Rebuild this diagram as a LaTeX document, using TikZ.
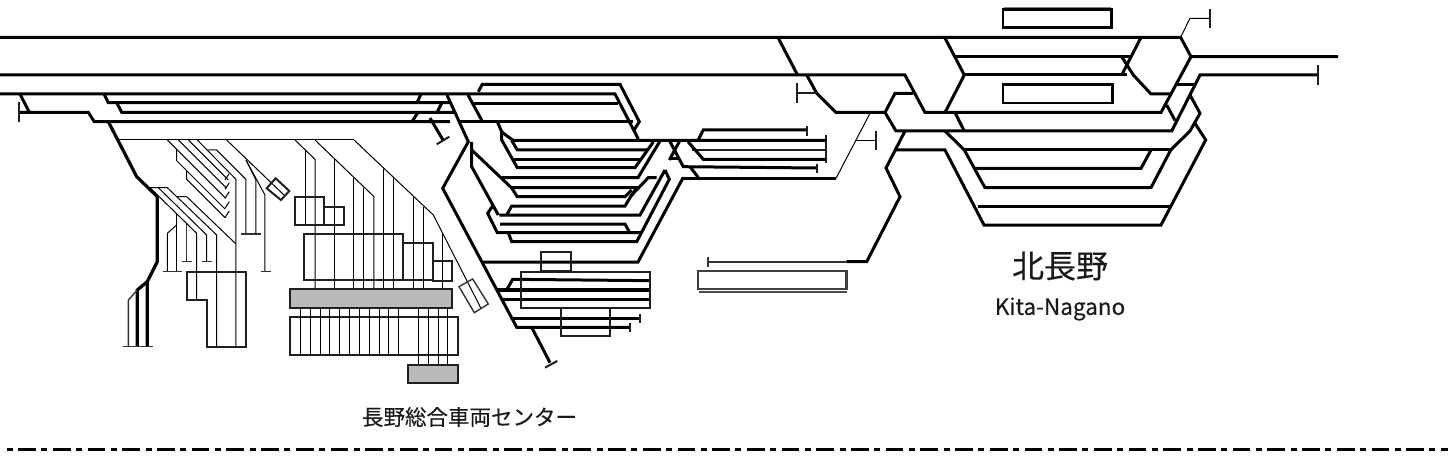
\documentclass[tikz,border=0pt]{standalone}
\usepackage{fontspec}
\setmainfont{Noto Sans CJK JP}[FakeBold=0.25]
\tikzset{
  trk/.style={line width=3pt,black},
  med/.style={line width=2pt,black!88},
  lite/.style={line width=1pt,black},
  thinz/.style={line width=1.4pt,black!80},
  greybld/.style={draw=black!88,line width=2pt,fill=black!27},
  bldg/.style={draw=black,line width=2.5pt},
  lbl/.style={inner sep=0pt,text=black!90}
}
\begin{document}
\begin{tikzpicture}[x=1pt,y=-1pt]
\useasboundingbox (0,0) rectangle (1448,468);
% --- main lines
\draw[trk] (0,37.5) -- (1180.7,37.5) -- (1191,56.7) -- (1338,56.7);
\draw[trk] (0,75) -- (905,75) -- (925,112.5) -- (1161,112.5) -- (1191,56.7);
\draw[trk] (778,37.5) -- (797.5,75);
\draw[trk] (806.7,75) -- (816.7,93.3) -- (836,112.5) -- (885,112.5) -- (895,93.3) -- (913,93.3);
\draw[med] (797,93.3) -- (816.7,93.3);
\draw[med] (797,83) -- (797,103);
\draw[trk] (885,112.5) -- (896,131) -- (1171.7,131) -- (1200,75) -- (1318,75);
\draw[med] (1318,65) -- (1318,85);
\draw[trk] (905,131) -- (886,168) -- (900,196.7) -- (866.7,261.7) -- (846.7,261.7);
\draw[trk] (896,150) -- (945,150) -- (984,225) -- (1161,225) -- (1205.7,140) -- (1195,123.3);
\draw[thinz] (846.7,262) -- (708,262);
\draw[thinz] (708,257) -- (708,267);
% right station
\draw[trk] (945,38) -- (964.3,75) -- (945,112.5);
\draw[trk] (955,56.7) -- (1130,56.7);
\draw[trk] (964.3,75) -- (1126.7,75);
\draw[trk] (1140.7,38) -- (1121.7,75);
\draw[trk] (1121.7,56.7) -- (1133.3,75) -- (1151,94) -- (1170.7,94);
\draw[trk] (955,112.5) -- (964.3,131);
\draw[trk] (1166.7,105) -- (1175,120.5);
\draw[trk] (1176.5,84.3) -- (1195,84.3);
\draw[trk] (1190,95) -- (1200,113.3) -- (1190,131) -- (1170.7,150) -- (1151,187.7) -- (985,187.7) -- (964.3,150) -- (945,131);
\draw[trk] (964.3,150) -- (1170.7,150);
\draw[trk] (975,168.3) -- (1141,168.3) -- (1151,150);
\draw[trk] (978.3,206.7) -- (1170,206.7);
\draw[lite] (1180.7,37) -- (1190,18.3) -- (1210,18.3);
\draw[med] (1210,9) -- (1210,28);
\draw[bldg] (1003,9.5) rectangle (1111.5,27.5);
\draw[lite,black!50] (1004,7.3) -- (1111,7.3);
\draw[bldg] (1003,84.5) rectangle (1112.5,103);
% middle
\draw[lite] (836,178.3) -- (870,113.3);
\draw[lite] (855.7,141) -- (876,141);
\draw[med] (876,131) -- (876,150);
\draw[trk] (683.3,178.3) -- (836,178.3);
\draw[draw=black!75,line width=2.5pt] (698,271) rectangle (846.5,289);
\draw[line width=1.5pt,black!70] (699,292) -- (846.5,292);
\draw[trk] (698,140.5) -- (703.3,130) -- (806.7,130);
\draw[med] (806.7,126) -- (806.7,136);
\draw[med] (826,135) -- (826,163);
\draw[med] (692,150) -- (826,150);
\draw[trk] (688,141.7) -- (703.3,159.3) -- (826,159.3);
\draw[trk] (670,141.7) -- (683.3,166.7) -- (816.7,168);
\draw[med] (816.7,163.5) -- (816.7,173);
\draw[trk] (690,166.7) -- (698.3,177.5);
\draw[trk] (679.3,141.7) -- (669.3,160);
\draw[trk] (669.3,158.3) -- (678,158.3);
% central yard
\draw[trk] (0,94) -- (615,94) -- (638.3,139);
\draw[trk] (478.3,91.7) -- (482.3,84.3) -- (620,84.3) -- (639.3,121.7) -- (634,130);
\draw[trk] (472,103.3) -- (618,103.3);
\draw[trk] (468,95) -- (482,120.7);
\draw[trk] (447,95) -- (468.3,141.7) -- (442.7,188.3) -- (516.7,327.3) -- (630,327.3);
\draw[med] (630,323) -- (630,332);
\draw[trk] (460,121.7) -- (633,121.7);
\draw[trk] (497.3,121.7) -- (501.7,131.7) -- (501.7,140) -- (517.3,167.7) -- (635,167.7) -- (653.3,142);
\draw[trk] (501.7,132) -- (513.3,140.5) -- (826,140.5);
\draw[trk] (511.7,140.5) -- (517.3,150) -- (648,150);
\draw[trk] (513,159.3) -- (642,159.3);
\draw[trk] (502,177.7) -- (638,177.7) -- (660,141);
\draw[trk] (471.7,142) -- (471.7,166.7) -- (498.3,215);
\draw[trk] (471.7,150) -- (511.7,188) -- (517.3,196.7) -- (625,196.7) -- (631.7,190);
\draw[trk] (511.7,187.5) -- (636.7,187.5) -- (631.7,195.7);
\draw[trk] (506.7,215) -- (511.7,206) -- (625,206) -- (631.7,195) -- (648.3,177.7) -- (656.7,177.7);
\draw[trk] (499.3,215) -- (640,215) -- (665,170);
\draw[trk] (493.3,205) -- (487.7,213.3) -- (497.3,232.7) -- (641.4,232.7);
\draw[trk] (500,224) -- (625,224) -- (629.7,232.7);
\draw[trk] (508.3,232.7) -- (511.7,241.7) -- (636.7,241.7) -- (669.3,179.3) -- (665,170);
\draw[trk] (483,262) -- (638,262) -- (683.3,177.3);
% lower right yard
\begin{scope}[xshift=470pt,yshift=-240pt,x=0.3333pt,y=-0.3333pt]
\draw[trk] (110,150) -- (128,118) -- (540,122);
\draw[trk,line width=3.5pt] (80,150) -- (540,150);
\draw[trk,line width=2.5pt] (100,178) -- (540,178);
\draw[trk,line width=3.5pt] (130,235) -- (510,235);
\draw[med] (510,222) -- (510,248);
\draw[trk] (185,262) -- (240,368);
\draw[med] (225,383) -- (262,363);
\draw[med] (153,95) rectangle (540,205);
\draw[med] (213,35) rectangle (302,92);
\draw[med] (272,205) rectangle (420,288);
\end{scope}
% west sidings
\draw[trk] (20,94) -- (29.3,112.3);
\draw[trk] (19,112.3) -- (88.3,112.3) -- (94.3,121.7) -- (450,121.7);
\draw[med] (19,102) -- (19,122);
\draw[trk] (104,94) -- (108.3,102.7) -- (451,102.7);
\draw[trk] (116.7,102.7) -- (121.7,112.3) -- (455,112.3);
\draw[trk] (412,121.7) -- (418,112.3);
\draw[trk] (437,112.3) -- (442,102.7);
\draw[trk] (417,102.7) -- (421,94);
\draw[trk] (430,118) -- (443,140);
\draw[med] (436.7,144.3) -- (449.3,136.7);
% west yard
\begin{scope}[xshift=110pt,yshift=-130pt,x=0.3333pt,y=-0.3333pt]
\draw[trk,line width=3.2pt] (-5,-25) -- (80,140) -- (142,200) -- (142,395) -- (112,455) -- (112,650);
\draw[trk,line width=3.2pt] (112,455) -- (82,480) -- (82,650);
\draw[thinz] (82,480) -- (55,510) -- (55,650);
\draw[thinz] (40,650) -- (128,650);
\draw[lite] (25,30) -- (733,30);
\draw[lite] (262,30) -- (378,148) -- (378,650);
\draw[lite] (235,30) -- (355,150);
\draw[lite] (205,30) -- (350,175);
\draw[lite] (172,30) -- (347,205);
\draw[lite] (200,60) -- (200,92) -- (345,237);
\draw[lite] (230,122) -- (230,148) -- (345,263);
\foreach \y in {150,178,205,235,263} \draw[lite] (345,\y) -- (358,\y-20);
\draw[lite] (295,60) -- (320,60) -- (408,148) -- (408,312);
\draw[thinz] (393,312) -- (452,312);
\draw[lite] (350,30) -- (525,198);
\draw[lite] (408,90) -- (438,150) -- (438,312);
\draw[lite] (408,90) -- (465,195) -- (465,425);
\draw[thinz] (452,425) -- (482,425);
\draw[med] (470,175) -- (497,145) -- (538,183) -- (513,210) -- cycle;
\draw[lite] (120,173) -- (172,173) -- (320,315) -- (320,650);
\draw[lite] (145,173) -- (290,315) -- (290,395);
\draw[lite] (120,173) -- (260,310) -- (260,510);
\draw[lite] (198,200) -- (230,200) -- (378,342);
\draw[lite] (200,253) -- (200,425);
\draw[lite] (200,285) -- (172,310) -- (172,425);
\draw[thinz] (230,283) -- (230,395);
\draw[thinz] (215,395) -- (245,395);
\draw[thinz] (275,395) -- (305,395);
\draw[thinz] (158,425) -- (215,425);
\draw[med] (230,425) -- (408,425) -- (408,650) -- (290,650) -- (290,510) -- (230,510) -- cycle;
\end{scope}
% depot
\begin{scope}[xshift=280pt,yshift=-130pt,x=0.3333pt,y=-0.3333pt]
\draw[lite] (45,30) -- (105,88) -- (105,478);
\draw[lite] (75,60) -- (75,285);
\draw[lite] (105,30) -- (282,200) -- (282,478);
\draw[lite] (222,30) -- (460,255) -- (603,535);
\foreach \x/\y in {163/88,222/145,252/175,311/118,340/145,400/200,430/230,488/310}
  \draw[lite] (\x,\y) -- (\x,478);
\draw[med] (45,200) rectangle (133,285);
\draw[med] (133,230) rectangle (193,285);
\draw[med] (73,313) rectangle (370,450);
\draw[med] (370,338) rectangle (458,450);
\draw[med] (458,393) rectangle (517,452);
\draw[med] (30,562) rectangle (533,674);
\foreach \x in {62,91,121,150,180,209,238,268,298,327,356} \draw[lite] (\x,533) -- (\x,674);
\foreach \x in {416,445,475,504} \draw[lite] (\x,533) -- (\x,706);
\draw[greybld] (30,478) rectangle (517,533);
\draw[greybld] (385,706) rectangle (533,758);
\draw[thinz] (537,470) -- (578,447) -- (625,522) -- (583,548) -- cycle;
\end{scope}
% texts
\node[lbl,font=\fontsize{32}{32}\selectfont] (kanji) at (1060,266) {北長野};
\node[lbl,font=\fontsize{22.5}{22.5}\selectfont] (roman) at (1060,309) {Kita-Nagano};
\node[lbl,font=\fontsize{21.5}{21.5}\selectfont] (depot) at (469.5,417) {長野総合車両センター};
% boundary
\draw[line width=2.5pt,black,dash pattern=on 6pt off 5.5pt on 17.7pt off 5.5pt] (6.7,449.7) -- (1448,449.7);
\end{tikzpicture}
\end{document}
